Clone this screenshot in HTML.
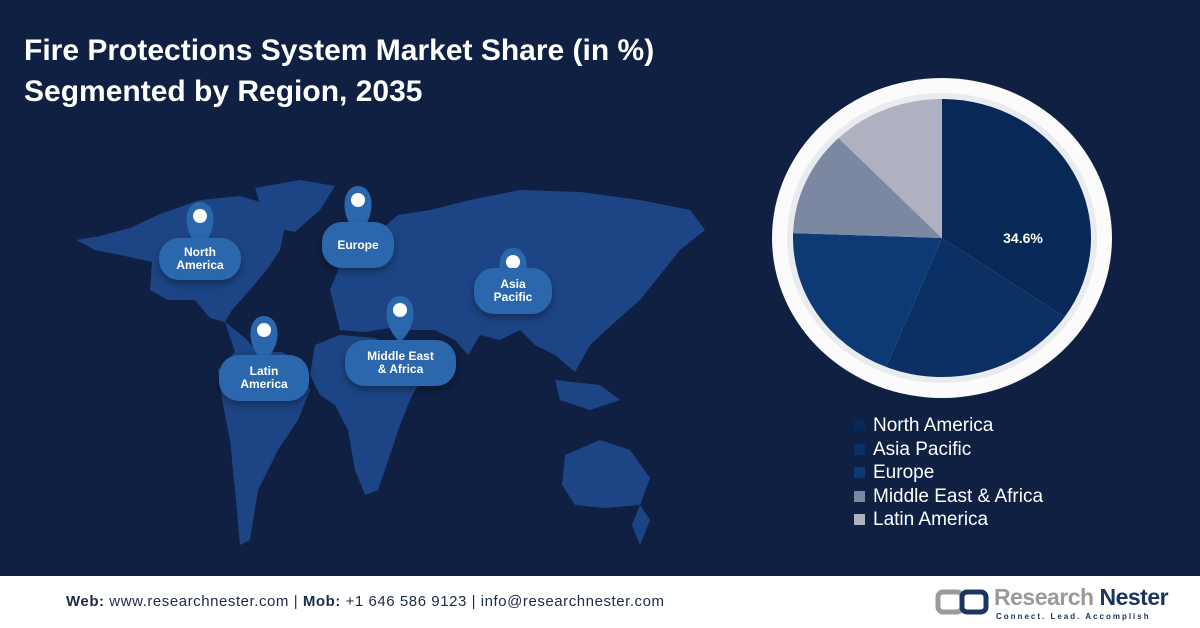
<!DOCTYPE html>
<html><head><meta charset="utf-8"><style>
body{margin:0;width:1200px;height:628px;overflow:hidden;background:#0f2043;font-family:"Liberation Sans",sans-serif;position:relative}
.t{position:absolute;left:24px;top:30px;color:#fff;font-weight:bold;font-size:30px;line-height:41px}
.pill{position:absolute;background:#2b67ad;color:#fff;font-weight:bold;font-size:12px;line-height:13px;text-align:center;border-radius:20px;display:flex;align-items:center;justify-content:center;box-shadow:0 4px 8px rgba(0,0,0,.35)}
.leg{position:absolute;left:854px;top:414px;color:#fff;font-size:19px;line-height:23.5px}
.leg div{display:flex;align-items:center}
.leg span{display:inline-block;width:11px;height:11px;margin-right:8px}
.foot{position:absolute;left:0;top:576px;width:1200px;height:52px;background:#fff}
</style></head><body>
<div class="t">Fire Protections System Market Share (in %)<br>Segmented by Region, 2035</div>
<svg width="1200" height="576" style="position:absolute;left:0;top:0">
<g fill="#1d4585">
<path d="M76,240 L100,236 L130,228 L160,214 L200,200 L240,196 L270,205 L285,225 L280,250 L268,268 L250,290 L232,310 L225,322 L210,318 L195,300 L168,300 L150,290 L152,262 L120,255 L95,250 Z"/>
<path d="M255,188 L300,180 L335,186 L320,210 L295,232 L275,228 L262,210 Z"/>
<path d="M225,322 L245,338 L258,352 L282,352 L300,362 L310,390 L298,420 L278,450 L258,490 L250,540 L240,545 L236,500 L230,440 L222,400 L218,370 L235,352 Z"/>
<path d="M315,345 L340,335 L375,338 L395,348 L410,362 L425,372 L410,400 L400,425 L390,455 L378,490 L365,495 L355,470 L348,430 L335,405 L320,395 L310,375 Z"/>
<path d="M330,290 L350,240 L378,232 L398,215 L430,210 L470,200 L520,190 L580,192 L640,200 L690,210 L705,230 L680,250 L660,275 L640,300 L615,322 L590,345 L575,372 L555,355 L535,345 L520,330 L500,340 L480,335 L468,355 L455,340 L435,330 L410,330 L390,328 L365,332 L340,330 Z"/>
<path d="M565,455 L600,440 L630,450 L650,478 L640,505 L605,508 L575,505 L562,485 Z"/>
<path d="M555,380 L600,385 L620,400 L590,410 L560,400 Z"/>
<path d="M640,505 L650,520 L640,545 L632,525 Z"/>
</g>
<g fill="#2b67ad">
<path d="M200,248 C180,230 184,202 200,202 C216,202 220,230 200,248Z"/>
<path d="M358,234 C338,216 342,186 358,186 C374,186 378,216 358,234Z"/>
<path d="M513,294 C493,276 497,248 513,248 C529,248 533,276 513,294Z"/>
<path d="M264,362 C244,344 248,316 264,316 C280,316 284,344 264,362Z"/>
<path d="M400,342 C380,324 384,296 400,296 C416,296 420,324 400,342Z"/>
</g>
<g fill="#fff"><circle cx="200" cy="216" r="7"/><circle cx="358" cy="200" r="7"/><circle cx="513" cy="262" r="7"/><circle cx="264" cy="330" r="7"/><circle cx="400" cy="310" r="7"/></g>
<ellipse cx="942" cy="238" rx="170" ry="160" fill="#fbfbfc"/>
<ellipse cx="942" cy="238" rx="155" ry="145" fill="#eaebef"/>
<path d="M942,238 L942,99 A149,139 0 0 1 1064.6,317 Z" fill="#082858"/>
<path d="M942,238 L1064.6,317 A149,139 0 0 1 886.1,366.9 Z" fill="#0b3064"/>
<path d="M942,238 L886.1,366.9 A149,139 0 0 1 793.1,233.1 Z" fill="#0d3a74"/>
<path d="M942,238 L793.1,233.1 A149,139 0 0 1 838.5,138.1 Z" fill="#7c87a2"/>
<path d="M942,238 L838.5,138.1 A149,139 0 0 1 942,99 Z" fill="#aeb2c0"/>
<text x="1023" y="243" fill="#fff" font-weight="bold" font-size="14" text-anchor="middle" font-family="Liberation Sans">34.6%</text>
</svg>
<div class="pill" style="left:159px;top:238px;width:82px;height:42px">North<br>America</div>
<div class="pill" style="left:322px;top:222px;width:72px;height:46px">Europe</div>
<div class="pill" style="left:474px;top:268px;width:78px;height:46px">Asia<br>Pacific</div>
<div class="pill" style="left:219px;top:355px;width:90px;height:46px">Latin<br>America</div>
<div class="pill" style="left:345px;top:340px;width:111px;height:46px">Middle East<br>&amp; Africa</div>
<div class="leg">
<div><span style="background:#082858"></span>North America</div>
<div><span style="background:#0b3064"></span>Asia Pacific</div>
<div><span style="background:#0d3a74"></span>Europe</div>
<div><span style="background:#7c87a2"></span>Middle East &amp; Africa</div>
<div><span style="background:#aeb2c0"></span>Latin America</div>
</div>
<div class="foot">
<div style="position:absolute;left:66px;top:17px;font-size:15px;letter-spacing:0.55px;color:#1a2a4a"><b>Web:</b> www.researchnester.com | <b>Mob:</b> +1 646 586 9123 | info@researchnester.com</div>
<svg width="60" height="30" style="position:absolute;left:935px;top:12px"><rect x="3" y="4" width="24" height="20" rx="5" fill="none" stroke="#9a9a9a" stroke-width="5"/><rect x="27" y="4" width="24" height="20" rx="5" fill="none" stroke="#1c3461" stroke-width="5"/></svg>
<div style="position:absolute;left:994px;top:8px;font-size:23px;font-weight:bold;color:#9a9a9a;letter-spacing:-0.5px">Research <span style="color:#1c3461">Nester</span></div>
<div style="position:absolute;left:996px;top:36px;font-size:8px;font-weight:bold;color:#1c3461;letter-spacing:2px">Connect. Lead. Accomplish</div>
</div>
</body></html>
